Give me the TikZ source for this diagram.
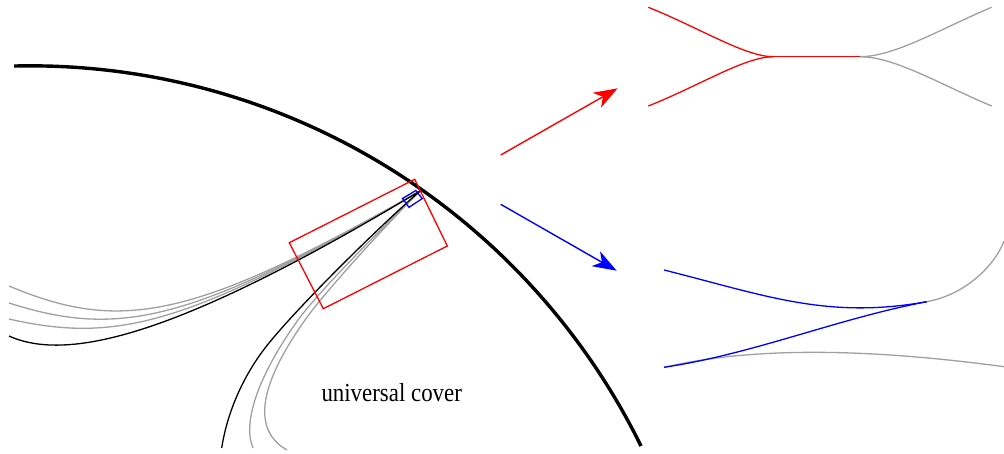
\documentclass[tikz,border=0pt]{standalone}
\usepackage{fontspec}
\setmainfont{Liberation Serif}
\usetikzlibrary{arrows.meta}
\definecolor{geogray}{RGB}{160,160,160}
\tikzset{
  geo/.style={line width=1.3pt, line join=round},
  ggeo/.style={geo, draw=geogray},
  bgeo/.style={geo, draw=black},
  rgeo/.style={geo, draw=red},
  bluegeo/.style={geo, draw=blue},
  boundary/.style={line width=3.4pt},
  frame/.style={line width=1.3pt},
  zoomarrow/.style={line width=1.4pt, -{Stealth[length=24pt,width=17pt,inset=7pt]}}
}
\begin{document}
\begin{tikzpicture}[x=1pt,y=-1pt]
\useasboundingbox (0,0) rectangle (1004,453);
\coordinate (ideal) at (420,191);

% left bundle
\draw[ggeo] (9,286) .. controls (119,332) and (190,322) .. (ideal);
\draw[ggeo] (9,303) .. controls (119,338) and (190,323) .. (ideal);
\draw[ggeo] (9,319) .. controls (119,344) and (190,324) .. (ideal);
\draw[bgeo] (9,336) .. controls (75,366) and (200,323) .. (ideal);

% bottom bundle
\draw[ggeo] (253,448) .. controls (243,425) and (255,380) .. (298,320) .. controls (320,290) and (385,225) .. (ideal);
\draw[ggeo] (287,450) .. controls (257,433) and (252,395) .. (305,320) .. controls (324,293) and (385,226) .. (ideal);
\draw[bgeo] (221.7,448) .. controls (226,420) and (238,385) .. (262,352) .. controls (290,314) and (380,226) .. (ideal);

% boundary circle
\draw[boundary] plot[domain=91.36:26.2, samples=120] ({30.2+680.8*cos(\x)}, {746.6-680.8*sin(\x)});

% red frame
\coordinate (r1) at (289.3,242.7);
\coordinate (r2) at (414.7,179.3);
\coordinate (r3) at (447.3,246);
\coordinate (r4) at (323.3,308.7);
\draw[frame, red] (r1) -- (r2) -- (r3) -- (r4) -- cycle;

% blue frame
\coordinate (b1) at (402.5,198.5);
\coordinate (b2) at (415.8,190.5);
\coordinate (b3) at (422.2,198.6);
\coordinate (b4) at (409,207.3);
\draw[frame, blue] (b1) -- (b2) -- (b3) -- (b4) -- cycle;

% arrows
\coordinate (ra1) at (500.7,155);
\coordinate (ra2) at (617.7,88.3);
\coordinate (ba1) at (500.7,204.3);
\coordinate (ba2) at (616.7,270.7);
\draw[zoomarrow, red] (ra1) -- (ra2);
\draw[zoomarrow, blue] (ba1) -- (ba2);

% red zoom
\coordinate (rj) at (773.3,56.7);
\coordinate (rk) at (860,56.7);
\draw[rgeo] (648.3,7.3) .. controls (700,28) and (745,56.7) .. (rj);
\draw[rgeo] (648.3,106) .. controls (700,85.4) and (745,56.7) .. (rj);
\draw[rgeo] (rj) -- (rk);
\draw[ggeo] (rk) .. controls (895,56.7) and (942,28) .. (991.7,7.3);
\draw[ggeo] (rk) .. controls (895,56.7) and (942,85.4) .. (991.7,106);

% blue zoom
\coordinate (bj) at (926.7,301.7);
\coordinate (bs) at (664,367.3);
\draw[ggeo] (bj) .. controls (966,294.6) and (995,265) .. (1004,241);
\draw[ggeo] (bs) .. controls (760,345) and (880,350) .. (1004,366.7);
\draw[bluegeo] (664,270) .. controls (764,295) and (826.7,319.7) .. (bj);
\draw[bluegeo] (bs) .. controls (754,353.8) and (836.7,318.8) .. (bj);

% label
\node[anchor=base, inner sep=0pt, font=\fontsize{26}{30}\selectfont] (lbl) at (391.7,401) {\scalebox{0.88}[1]{universal cover}};
\end{tikzpicture}
\end{document}
